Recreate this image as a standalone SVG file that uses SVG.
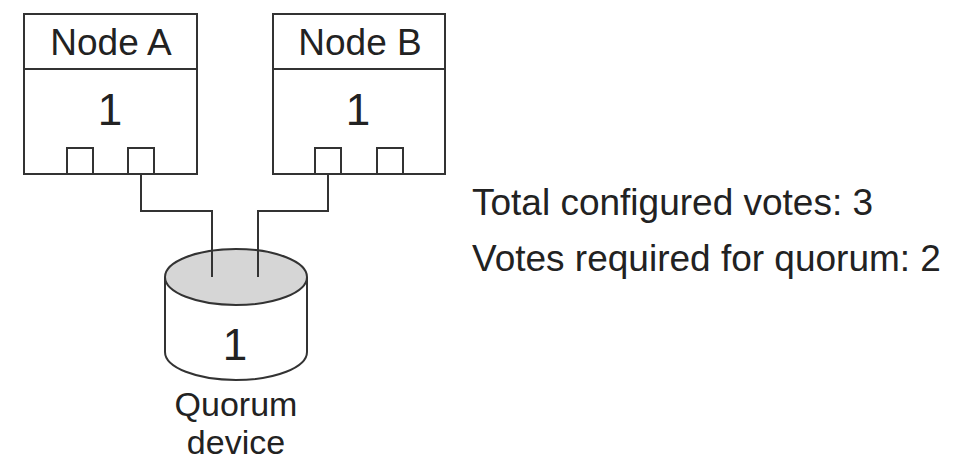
<svg xmlns="http://www.w3.org/2000/svg" width="966" height="462" viewBox="0 0 966 462">
<style>
.ln{fill:none;stroke:#333;stroke-width:2}
.box{fill:#fff;stroke:#333;stroke-width:2}
.t{font-family:"Liberation Sans",Arial,sans-serif;fill:#222}
.lbl{font-size:37px}
.sm{font-size:34px;text-anchor:middle}
.num{font-size:44px;text-anchor:middle}
.c{text-anchor:middle}
</style>
<rect width="966" height="462" fill="#fff"/>
<g id="nodeA">
<rect class="box" x="24" y="14" width="173" height="160"/>
<line class="ln" x1="24" y1="69" x2="197" y2="69"/>
<text class="t lbl c" x="111" y="55">Node A</text>
<text class="t num" x="110" y="125">1</text>
<rect class="box" x="67" y="148" width="26" height="26"/>
<rect class="box" x="128" y="148" width="26" height="26"/>
</g>
<g id="nodeB">
<rect class="box" x="273" y="14" width="172" height="160"/>
<line class="ln" x1="273" y1="69" x2="445" y2="69"/>
<text class="t lbl c" x="360" y="55">Node B</text>
<text class="t num" x="358" y="125">1</text>
<rect class="box" x="315" y="148" width="26" height="26"/>
<rect class="box" x="377" y="148" width="26" height="26"/>
</g>
<g id="quorum">
<path class="box" d="M165 277 V352 A71 28 0 0 0 307 352 V277"/>
<ellipse cx="236" cy="277" rx="71" ry="28" fill="#d6d6d6" stroke="#333" stroke-width="2"/>
<text class="t num" x="235" y="360">1</text>
<text class="t sm" x="236" y="416">Quorum</text>
<text class="t sm" x="236" y="454">device</text>
</g>
<g id="connectors">
<polyline class="ln" points="141,174 141,211 212,211 212,277"/>
<polyline class="ln" points="328,174 328,211 258,211 258,277"/>
</g>
<g id="info">
<text class="t lbl" x="472" y="215">Total configured votes: 3</text>
<text class="t lbl" x="472" y="271">Votes required for quorum: 2</text>
</g>
</svg>
